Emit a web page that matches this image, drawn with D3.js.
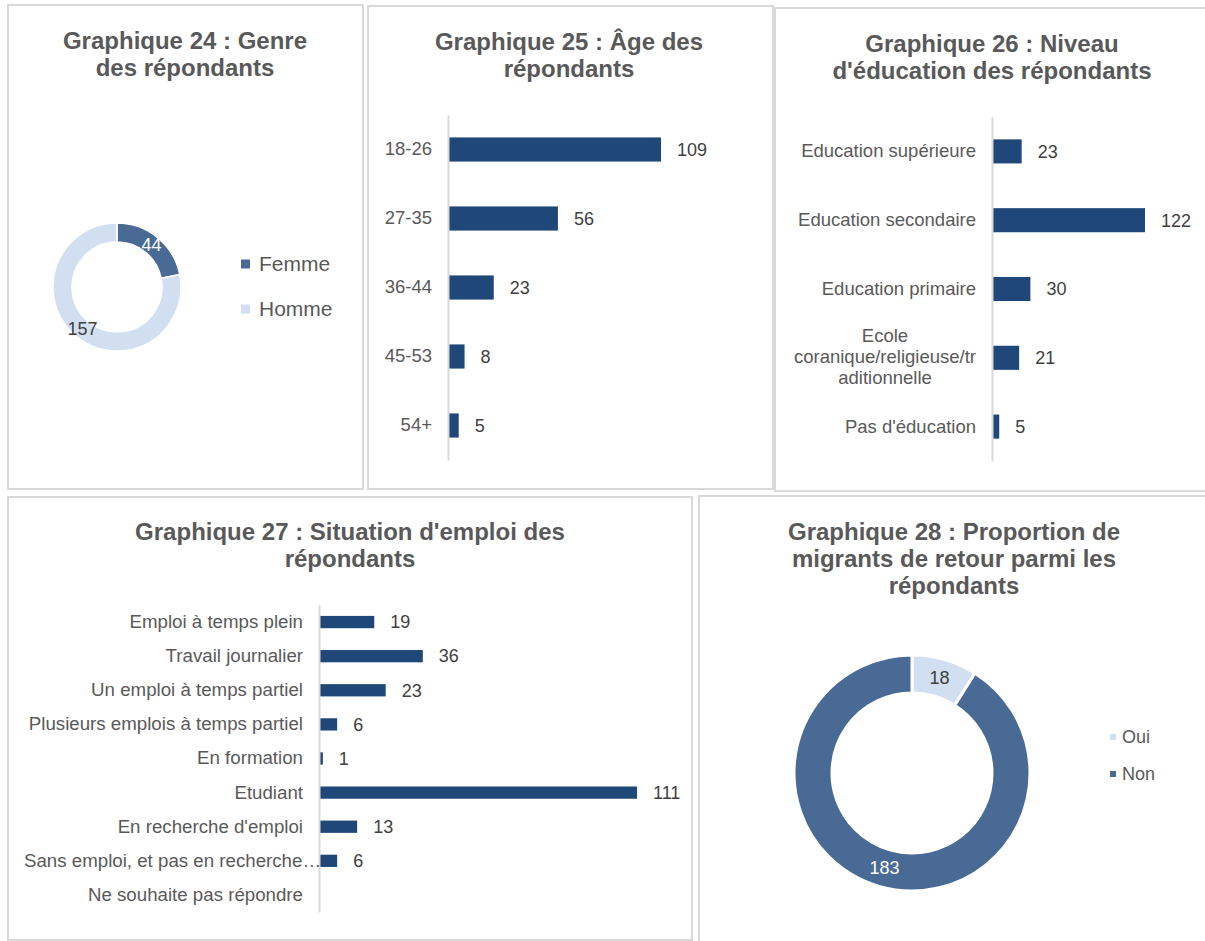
<!DOCTYPE html>
<html>
<head>
<meta charset="utf-8">
<script src="https://cdn.jsdelivr.net/npm/d3@7/dist/d3.min.js"></script>
<style>
  body { margin: 0; background: #ffffff; }
  svg text { font-family: "Liberation Sans", Arial, sans-serif; }
</style>
</head>
<body>
<svg id="page" width="1205" height="941"></svg>
<script>
// ---- data ----
var genreLabels = ["Femme", "Homme"];
var genreValues = [44, 157];

var ageLabels = ["18-26", "27-35", "36-44", "45-53", "54+"];
var ageValues = [109, 56, 23, 8, 5];

var eduLabels = ["Education supérieure", "Education secondaire", "Education primaire",
                 "Ecole coranique/religieuse/traditionnelle", "Pas d'éducation"];
var eduValues = [23, 122, 30, 21, 5];

var emploiLabels = ["Emploi à temps plein", "Travail journalier", "Un emploi à temps partiel",
                    "Plusieurs emplois à temps partiel", "En formation", "Etudiant",
                    "En recherche d'emploi", "Sans emploi, et pas en recherche…",
                    "Ne souhaite pas répondre"];
var emploiValues = [19, 36, 23, 6, 1, 111, 13, 6, null];

var retourLabels = ["Oui", "Non"];
var retourValues = [18, 183];

// ---- colours ----
var barColor = "#1f4879",
    darkBlue = "#4a6a96",
    lightBlue = "#d1dff1",
    titleColor = "#595959",
    textColor = "#404040",
    frameColor = "#d9d9d9";

var svg = d3.select("#page");

// panel frames
function drawFrame(x0, y0, x1, y1){
    svg.append("rect")
        .attr("x", x0).attr("y", y0)
        .attr("width", x1 - x0).attr("height", y1 - y0)
        .attr("fill", "none")
        .attr("stroke", frameColor)
        .attr("stroke-width", 2);
}

function drawTitle(cx, y0, lines){
    var t = svg.append("text")
        .attr("text-anchor", "middle")
        .attr("font-size", 24)
        .attr("font-weight", "bold")
        .attr("fill", titleColor);
    lines.forEach(function(l, i){
        t.append("tspan").attr("x", cx).attr("y", y0 + i * 27).text(l);
    });
}

// wrap a tick label into lines no wider than maxw (breaks inside words when needed, like Excel)
function wrapLabel(textSel, maxw, lineh){
    textSel.each(function(){
        var text = d3.select(this);
        var full = text.text();
        text.text(full);
        if(this.getComputedTextLength() <= maxw) return;
        var lines = [], line = "";
        var words = full.split(" ");
        words.forEach(function(w){
            var trial = line ? line + " " + w : w;
            text.text(trial);
            if(this.getComputedTextLength() <= maxw){ line = trial; return; }
            if(line){ lines.push(line); line = ""; }
            // word too long for one line: cut by characters
            var piece = "";
            for(var k = 0; k < w.length; k++){
                text.text(piece + w[k]);
                if(this.getComputedTextLength() > maxw && piece){
                    lines.push(piece); piece = w[k];
                } else {
                    piece += w[k];
                }
            }
            line = piece;
        }, this);
        if(line) lines.push(line);
        text.text(null);
        var widest = 0;
        lines.forEach(function(l){
            text.text(l);
            widest = Math.max(widest, this.getComputedTextLength());
        }, this);
        text.text(null);
        var x0 = +text.attr("x") - widest / 2;
        text.attr("text-anchor", "middle");
        lines.forEach(function(l, i){
            text.append("tspan")
                .attr("x", x0)
                .attr("dy", i == 0 ? ((-(lines.length - 1) / 2) * lineh / 18 + 0.32) + "em" : lineh + "px")
                .text(l);
        });
        text.attr("dy", null);
    });
}

function drawBars(o){
    var g = svg.append("g").attr("transform", "translate(" + o.axisX + ",0)");

    var y = d3.scaleBand()
        .domain(o.labels)
        .range([o.top, o.bottom])
        .paddingInner(o.pad)
        .paddingOuter(o.pad / 2);

    var x = d3.scaleLinear()
        .domain([0, o.domainMax])
        .range([0, o.rangeMax]);

    var rows = o.labels.map(function(l, i){ return {label: l, value: o.values[i]}; });

    g.selectAll(".bar")
        .data(rows.filter(function(d){ return d.value != null; }))
        .enter().append("rect")
        .attr("class", "bar")
        .attr("x", 1)
        .attr("y", function(d){ return y(d.label); })
        .attr("width", function(d){ return x(d.value); })
        .attr("height", y.bandwidth())
        .attr("fill", barColor);

    g.selectAll(".val")
        .data(rows.filter(function(d){ return d.value != null; }))
        .enter().append("text")
        .attr("class", "val")
        .attr("x", function(d){ return x(d.value) + 17; })
        .attr("y", function(d){ return y(d.label) + y.bandwidth() / 2; })
        .attr("dy", "0.35em")
        .attr("font-size", 18)
        .attr("fill", textColor)
        .text(function(d){ return d.value; });

    var ax = g.append("g")
        .call(d3.axisLeft(y).tickSize(0).tickSizeOuter(0).tickPadding(16));
    ax.select(".domain").attr("stroke", frameColor).attr("stroke-width", 2);
    ax.selectAll(".tick text")
        .attr("font-size", o.fontSize)
        .attr("font-family", "Liberation Sans, Arial, sans-serif")
        .attr("fill", titleColor);
    if(o.wrap) wrapLabel(ax.selectAll(".tick text"), o.wrap, 21);

    // keep over-long labels inside the chart area (Excel lets them run over the axis)
    if(o.minLeft != null){
        ax.selectAll(".tick text").each(function(){
            var left = o.axisX + this.getBBox().x;
            if(left < o.minLeft){
                d3.select(this).attr("x", +d3.select(this).attr("x") + (o.minLeft - left));
            }
        });
    }
}

function drawDonut(o){
    var g = svg.append("g").attr("transform", "translate(" + o.cx + "," + o.cy + ")");
    var pie = d3.pie().sort(null).value(function(d){ return d; });
    var arc = d3.arc().innerRadius(o.r0).outerRadius(o.r1);
    var slices = pie(o.values);

    g.selectAll("path")
        .data(slices)
        .enter().append("path")
        .attr("d", arc)
        .attr("fill", function(d, i){ return o.colors[i]; })
        .attr("stroke", "#ffffff")
        .attr("stroke-width", o.gap);

    g.selectAll(".lab")
        .data(slices)
        .enter().append("text")
        .attr("class", "lab")
        .attr("transform", function(d){ return "translate(" + arc.centroid(d) + ")"; })
        .attr("text-anchor", "middle")
        .attr("dy", "0.35em")
        .attr("font-size", 18)
        .attr("fill", function(d, i){ return o.labelColors[i]; })
        .text(function(d){ return d.data; });

    // legend
    var lg = svg.append("g");
    o.labels.forEach(function(l, i){
        var ly = o.legY + i * o.legStep;
        lg.append("rect")
            .attr("x", o.legX).attr("y", ly - o.sq / 2)
            .attr("width", o.sq).attr("height", o.sq)
            .attr("fill", o.colors[i]);
        lg.append("text")
            .attr("x", o.legX + o.sq + o.legGap)
            .attr("y", ly)
            .attr("dy", "0.35em")
            .attr("font-size", o.legFont)
            .attr("font-family", o.legFamily)
            .attr("fill", titleColor)
            .text(l);
    });
}

// ---- frames ----
drawFrame(8, 5, 363, 489);
drawFrame(368, 6, 773, 489);
drawFrame(775, 8, 1215, 491);
drawFrame(8, 497, 692, 940);
drawFrame(699, 496, 1215, 950);

// ---- Graphique 24 ----
drawTitle(185, 49, ["Graphique 24 : Genre", "des répondants"]);
drawDonut({
    cx: 117, cy: 287, r0: 45, r1: 64, gap: 1.5,
    values: genreValues, labels: genreLabels,
    colors: [darkBlue, lightBlue], labelColors: ["#ffffff", textColor],
    legX: 241, legY: 264, legStep: 45, sq: 9, legGap: 9,
    legFont: 21, legFamily: "Lato, 'Open Sans', sans-serif"
});

// ---- Graphique 25 ----
drawTitle(569, 50, ["Graphique 25 : Âge des", "répondants"]);
drawBars({
    labels: ageLabels, values: ageValues,
    axisX: 448, top: 115, bottom: 460, pad: 0.65,
    domainMax: 109, rangeMax: 212, fontSize: 18.5
});

// ---- Graphique 26 ----
drawTitle(992, 52, ["Graphique 26 : Niveau", "d'éducation des répondants"]);
drawBars({
    labels: eduLabels, values: eduValues,
    axisX: 992, top: 117, bottom: 461, pad: 0.65,
    domainMax: 122, rangeMax: 152, fontSize: 18.5, wrap: 188
});

// ---- Graphique 27 ----
drawTitle(350, 540, ["Graphique 27 : Situation d'emploi des", "répondants"]);
drawBars({
    labels: emploiLabels, values: emploiValues,
    axisX: 319, top: 605, bottom: 912, pad: 0.64,
    domainMax: 111, rangeMax: 317, fontSize: 18.7, minLeft: 24
});

// ---- Graphique 28 ----
drawTitle(954, 540, ["Graphique 28 : Proportion de", "migrants de retour parmi les", "répondants"]);
drawDonut({
    cx: 912, cy: 773, r0: 80, r1: 118, gap: 3,
    values: retourValues, labels: retourLabels,
    colors: [lightBlue, darkBlue], labelColors: [textColor, "#ffffff"],
    legX: 1110, legY: 737, legStep: 37, sq: 6, legGap: 6,
    legFont: 18, legFamily: "Liberation Sans, Arial, sans-serif"
});
</script>
</body>
</html>
